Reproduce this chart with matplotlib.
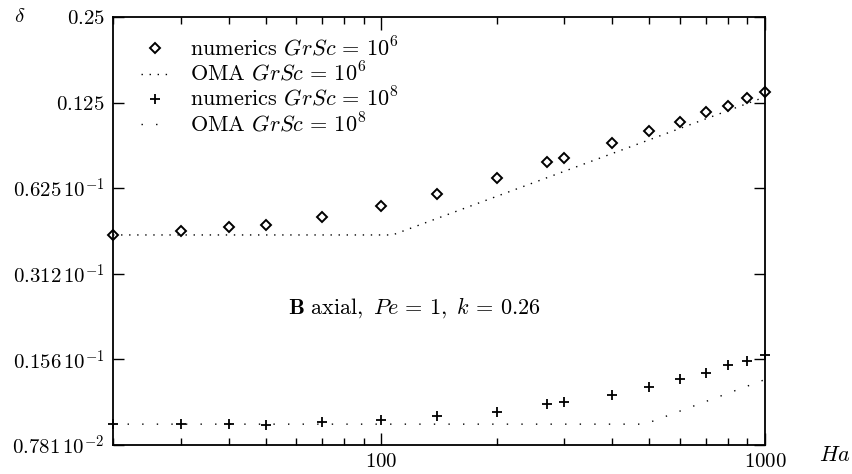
import matplotlib
matplotlib.use('Agg')
import matplotlib.pyplot as plt
from matplotlib.ticker import FixedLocator, FixedFormatter, NullFormatter

plt.rcParams['font.family'] = 'serif'
plt.rcParams['font.serif'] = ['cmr10', 'DejaVu Serif']
plt.rcParams['mathtext.fontset'] = 'cm'
plt.rcParams['axes.formatter.use_mathtext'] = True

# Data
ha = [20, 30, 40, 50, 70, 100, 140, 200, 270, 300, 400, 500, 600, 700, 800, 900, 1000]
num_1e6 = [0.0428, 0.0443, 0.0458, 0.0464, 0.0494, 0.0543, 0.0594, 0.0677, 0.0771,
           0.0797, 0.0903, 0.0994, 0.1071, 0.1161, 0.1219, 0.1300, 0.1362]
num_1e8 = [0.00925, 0.00925, 0.00923, 0.00918, 0.00938, 0.00955, 0.00987, 0.01017, 0.01085,
           0.01108, 0.01171, 0.01246, 0.01333, 0.01402, 0.01493, 0.01542, 0.01619]

# OMA asymptotes (break points)
oma_ha_1e6 = [20, 107, 1000]
oma_1e6 = [0.0428, 0.0428, 0.1309]
oma_ha_1e8 = [20, 486, 1000]
oma_1e8 = [0.00925, 0.00925, 0.01327]

yticks = [0.25, 0.125, 0.0625, 0.03125, 0.015625, 0.0078125]
ylabels = ['$0.25$', '$0.125$', r'$0.625\,10^{-1}$', r'$0.312\,10^{-1}$',
           r'$0.156\,10^{-1}$', r'$0.781\,10^{-2}$']

fig = plt.figure(figsize=(8.53, 4.74), dpi=100)
ax = fig.add_axes([113/853, 1-445/474, 652/853, 428/474])

ax.plot(ha, num_1e6, 'D', mfc='none', mec='black', ms=5.5, mew=1.4,
        label=r'numerics $GrSc\,=\,10^6$', clip_on=False)
ax.plot(oma_ha_1e6, oma_1e6, color='black', lw=1.0, ls=(0, (1, 4.8)),
        label=r'OMA $GrSc\,=\,10^6$')
ax.plot(ha, num_1e8, '+', color='black', ms=7, mew=1.3,
        label=r'numerics $GrSc\,=\,10^8$', clip_on=False)
ax.plot(oma_ha_1e8, oma_1e8, color='black', lw=1.0, ls=(0, (1, 9.5)),
        label=r'OMA $GrSc\,=\,10^8$')

ax.set_xscale('log')
ax.set_yscale('log', base=2)
ax.set_xlim(20, 1000)
ax.set_ylim(0.0078125, 0.25)

ax.yaxis.set_major_locator(FixedLocator(yticks))
ax.yaxis.set_major_formatter(FixedFormatter(ylabels))
ax.yaxis.set_minor_locator(FixedLocator([]))
ax.xaxis.set_major_locator(FixedLocator([100, 1000]))
ax.xaxis.set_major_formatter(FixedFormatter(['$100$', '$1000$']))
ax.xaxis.set_minor_formatter(NullFormatter())

ax.tick_params(which='both', direction='in', top=True, right=True, labelsize=15, width=1.0)
ax.tick_params(axis='x', which='major', length=9, pad=6)
ax.tick_params(axis='x', which='minor', length=5)
ax.tick_params(axis='y', which='major', length=8, pad=6)
for s in ax.spines.values():
    s.set_linewidth(1.3)

ax.legend(loc='upper left', bbox_to_anchor=(0.043, 0.955), frameon=False, fontsize=16,
          handlelength=1.3, handletextpad=0.9, labelspacing=0.05, borderaxespad=0.0,
          borderpad=0.0)

ax.text(0.268, 0.308, r'$\mathbf{B}\ \mathrm{axial},\ Pe\,=\,1,\ k\,=\,0.26$', transform=ax.transAxes,
        fontsize=16)

fig.text(835/853, 1-455/474, '$Ha$', fontsize=16, ha='center', va='center')
fig.text(20/853, 1-17/474, r'$\delta$', fontsize=15, ha='center', va='center')

fig.savefig('out.png', dpi=100)
